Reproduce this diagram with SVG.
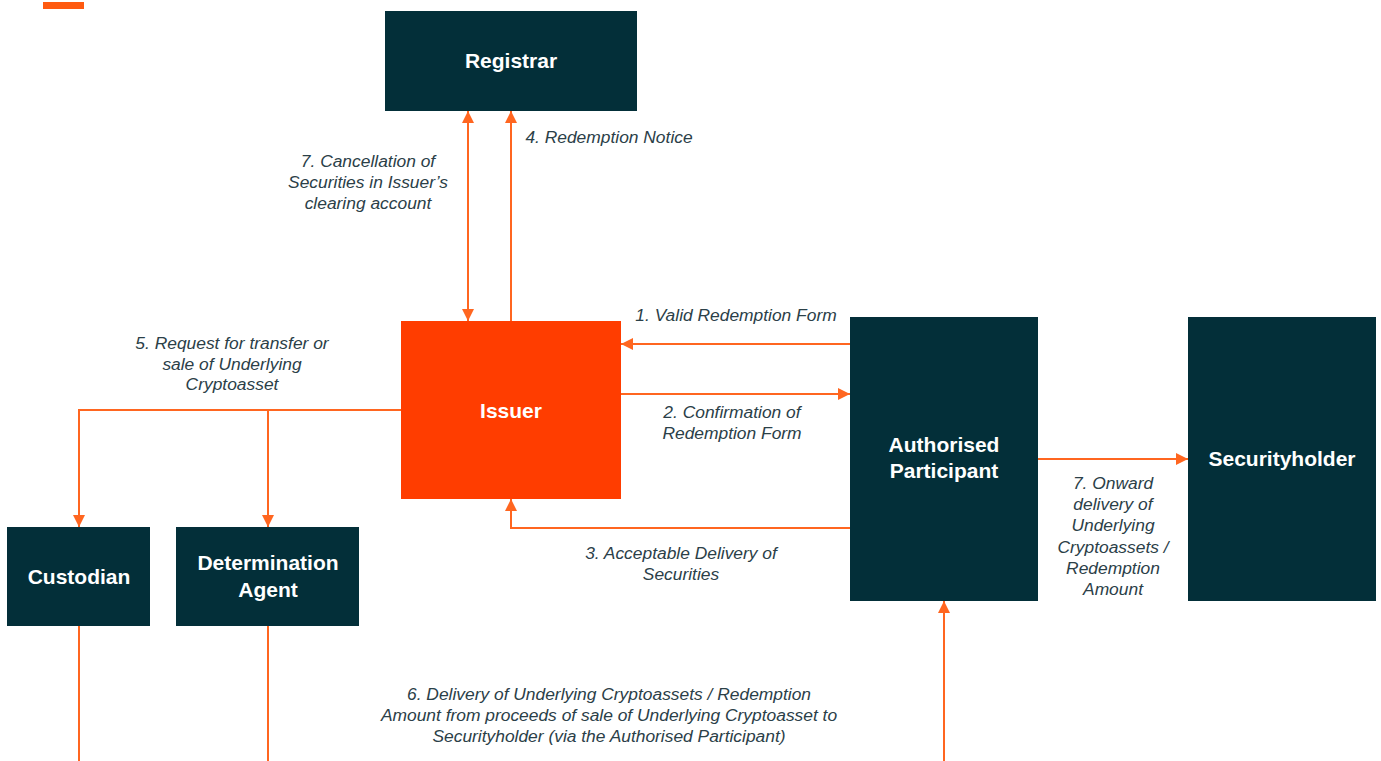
<svg xmlns="http://www.w3.org/2000/svg" width="1381" height="761" viewBox="0 0 1381 761">
<defs>
<marker id="ah" viewBox="0 0 10 10" refX="10" refY="5" markerWidth="12" markerHeight="12" markerUnits="userSpaceOnUse" orient="auto-start-reverse">
<path d="M0,0 L10,5 L0,10 z" fill="#FF6620"/>
</marker>
<style>
.node{fill:#032F39}
.nt{font-family:"Liberation Sans",Arial,sans-serif;font-weight:bold;font-size:21px;fill:#ffffff;text-anchor:middle}
.lb{font-family:"Liberation Sans",Arial,sans-serif;font-style:italic;font-size:17.4px;fill:#2B4048;text-anchor:middle}
.cn{fill:none;stroke:#FF6620;stroke-width:2}
</style>
</defs>
<rect width="1381" height="761" fill="#ffffff"/>
<rect x="43" y="2" width="41" height="7" fill="#FF5A10"/>
<g id="connectors">
<path class="cn" d="M468,111 L468,321" marker-start="url(#ah)" marker-end="url(#ah)"/>
<path class="cn" d="M511,321 L511,111" marker-end="url(#ah)"/>
<path class="cn" d="M850,344 L621,344" marker-end="url(#ah)"/>
<path class="cn" d="M621,394 L850,394" marker-end="url(#ah)"/>
<path class="cn" d="M850,528 L511,528 L511,499" marker-end="url(#ah)"/>
<path class="cn" d="M401,410 L79,410 L79,527" marker-end="url(#ah)"/>
<path class="cn" d="M268,410 L268,527" marker-end="url(#ah)"/>
<path class="cn" d="M79,626 L79,761"/>
<path class="cn" d="M268,626 L268,761"/>
<path class="cn" d="M944,761 L944,601" marker-end="url(#ah)"/>
<path class="cn" d="M1038,459 L1188,459" marker-end="url(#ah)"/>
<text class="lb"><tspan x="368" y="167">7. Cancellation of</tspan><tspan x="368" y="188">Securities in Issuer’s</tspan><tspan x="368" y="209">clearing account</tspan></text>
<text class="lb" x="609" y="143">4. Redemption Notice</text>
<text class="lb" x="736" y="321">1. Valid Redemption Form</text>
<text class="lb"><tspan x="732" y="418">2. Confirmation of</tspan><tspan x="732" y="439">Redemption Form</tspan></text>
<text class="lb"><tspan x="681" y="559">3. Acceptable Delivery of</tspan><tspan x="681" y="580">Securities</tspan></text>
<text class="lb"><tspan x="232" y="349">5. Request for transfer or</tspan><tspan x="232" y="370">sale of Underlying</tspan><tspan x="232" y="390">Cryptoasset</tspan></text>
<text class="lb"><tspan x="609" y="700">6. Delivery of Underlying Cryptoassets / Redemption</tspan><tspan x="609" y="721">Amount from proceeds of sale of Underlying Cryptoasset to</tspan><tspan x="609" y="742">Securityholder (via the Authorised Participant)</tspan></text>
<text class="lb"><tspan x="1113" y="489">7. Onward</tspan><tspan x="1113" y="510">delivery of</tspan><tspan x="1113" y="531">Underlying</tspan><tspan x="1113" y="553">Cryptoassets /</tspan><tspan x="1113" y="574">Redemption</tspan><tspan x="1113" y="595">Amount</tspan></text>
</g>
<g id="registrar"><rect class="node" x="385" y="11" width="252" height="100"/><text class="nt" x="511" y="68">Registrar</text></g>
<g id="issuer"><rect x="401" y="321" width="220" height="178" fill="#FF3D00"/><text class="nt" x="511" y="418">Issuer</text></g>
<g id="authorised-participant"><rect class="node" x="850" y="317" width="188" height="284"/><text class="nt"><tspan x="944" y="452">Authorised</tspan><tspan x="944" y="478">Participant</tspan></text></g>
<g id="securityholder"><rect class="node" x="1188" y="317" width="188" height="284"/><text class="nt" x="1282" y="466">Securityholder</text></g>
<g id="custodian"><rect class="node" x="7" y="527" width="143" height="99"/><text class="nt" x="79" y="584">Custodian</text></g>
<g id="determination-agent"><rect class="node" x="176" y="527" width="183" height="99"/><text class="nt"><tspan x="268" y="570">Determination</tspan><tspan x="268" y="597">Agent</tspan></text></g>
</svg>
